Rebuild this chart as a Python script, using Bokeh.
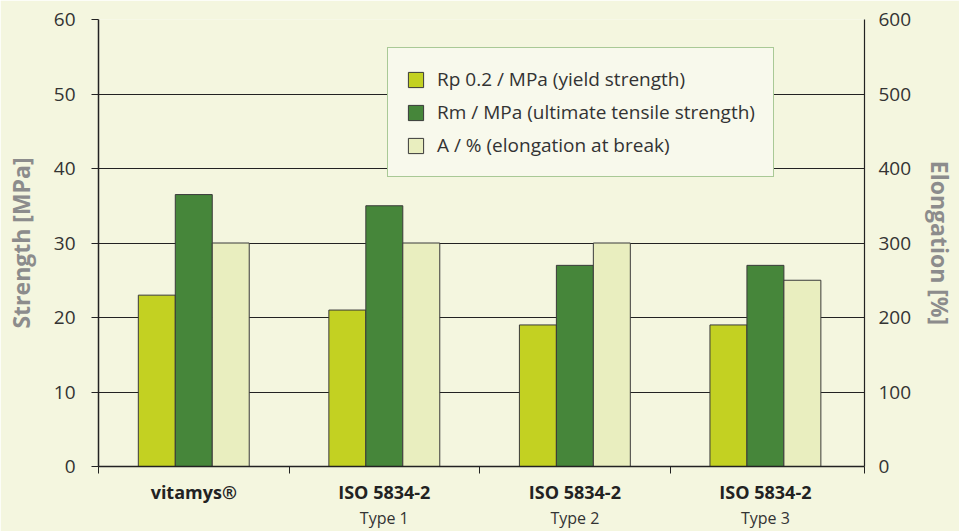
from bokeh.plotting import figure
from bokeh.models import (Range1d, LinearAxis, FixedTicker, Legend, LegendItem,
                          ColumnDataSource)
from bokeh.embed import file_html
from bokeh.resources import INLINE

# ---- data ----
categories = ["vitamys®", "ISO 5834-2", "ISO 5834-2", "ISO 5834-2"]
subtitles = ["", "Type 1", "Type 2", "Type 3"]
rp02 = [23, 21, 19, 19]          # MPa, yield strength
rm = [36.5, 35, 27, 27]          # MPa, ultimate tensile strength
elong = [300, 300, 300, 250]     # %, elongation at break
strength_ticks = [0, 10, 20, 30, 40, 50, 60]
elong_ticks = [0, 100, 200, 300, 400, 500, 600]

FONT = "Open Sans"
BG = "#f4f6df"
C_RP = "#c3d122"
C_RM = "#46863a"
C_A = "#e9eebf"
EDGE = "#3a3a3a"

n = len(categories)
centers = [i + 0.5 for i in range(n)]
bw = 0.194

p = figure(width=959, height=531, output_backend="svg", toolbar_location=None,
           x_range=Range1d(0, 4.02), y_range=Range1d(0, 60),
           min_border_left=98, min_border_right=95, min_border_top=19,
           min_border_bottom=65, background_fill_color=BG,
           border_fill_color=BG, outline_line_color=None)
p.extra_y_ranges = {"elong": Range1d(0, 600)}

src = ColumnDataSource(dict(
    x_rp=[c - bw for c in centers], x_rm=centers, x_a=[c + bw for c in centers],
    rp=rp02, rm=rm, a=elong))

r1 = p.vbar(x="x_rp", top="rp", width=bw, source=src, fill_color=C_RP,
            line_color=EDGE, line_width=1)
r2 = p.vbar(x="x_rm", top="rm", width=bw, source=src, fill_color=C_RM,
            line_color=EDGE, line_width=1)
r3 = p.vbar(x="x_a", top="a", width=bw, source=src, fill_color=C_A,
            line_color=EDGE, line_width=1, y_range_name="elong")

# grid
p.xgrid.visible = False
p.ygrid.ticker = FixedTicker(ticks=strength_ticks)
p.ygrid.grid_line_color = "#222222"
p.ygrid.grid_line_width = 1

# left axis
la = p.yaxis[0]
la.ticker = FixedTicker(ticks=strength_ticks, minor_ticks=[])
la.axis_label = "Strength [MPa]"
la.axis_label_text_font = FONT
la.axis_label_text_font_style = "bold"
la.axis_label_text_font_size = "23px"
la.axis_label_text_color = "#8c8c8c"
la.axis_label_standoff = 14
la.major_label_text_font = FONT
la.major_label_text_font_size = "19px"
la.major_label_text_color = "#333333"
la.major_label_standoff = 16
la.major_tick_out = 7
la.major_tick_in = 0
la.axis_line_color = "#222222"
la.axis_line_width = 1.5
la.major_tick_line_color = "#222222"
la.minor_tick_line_color = None

# right axis
ra = LinearAxis(y_range_name="elong",
                ticker=FixedTicker(ticks=elong_ticks, minor_ticks=[]))
ra.axis_label = "Elongation [%]"
ra.axis_label_text_font = FONT
ra.axis_label_text_font_style = "bold"
ra.axis_label_text_font_size = "23px"
ra.axis_label_text_color = "#8c8c8c"
ra.axis_label_standoff = 10
ra.major_label_text_font = FONT
ra.major_label_text_font_size = "19px"
ra.major_label_text_color = "#333333"
ra.major_label_standoff = 14
ra.major_tick_out = 0
ra.major_tick_in = 0
ra.axis_line_color = "#222222"
ra.axis_line_width = 1.2
ra.minor_tick_line_color = None
p.add_layout(ra, "right")

# bottom axis: category names (bold) and tick marks between categories
ba = p.xaxis[0]
ba.ticker = FixedTicker(ticks=centers, minor_ticks=[0, 1, 2, 3, 4.02])
ba.major_label_overrides = {c: lab for c, lab in zip(centers, categories)}
ba.major_label_text_font = FONT
ba.major_label_text_font_style = "bold"
ba.major_label_text_font_size = "18px"
ba.major_label_text_color = "#222222"
ba.major_label_standoff = 6
ba.major_tick_line_color = None
ba.major_tick_out = 7
ba.minor_tick_line_color = "#222222"
ba.minor_tick_out = 7
ba.minor_tick_in = 0
ba.axis_line_color = "#222222"
ba.axis_line_width = 1.5

# second bottom axis: sub labels
ba2 = LinearAxis(ticker=FixedTicker(ticks=centers, minor_ticks=[]))
ba2.major_label_overrides = {c: lab for c, lab in zip(centers, subtitles)}
ba2.major_label_text_font = FONT
ba2.major_label_text_font_size = "16px"
ba2.major_label_text_color = "#333333"
ba2.major_label_standoff = 0
ba2.major_tick_line_color = None
ba2.minor_tick_line_color = None
ba2.axis_line_color = None
ba2.major_tick_out = 0
ba2.major_tick_in = 0
p.add_layout(ba2, "below")

legend = Legend(items=[
    LegendItem(label="Rp 0.2 / MPa (yield strength)", renderers=[r1]),
    LegendItem(label="Rm / MPa (ultimate tensile strength)", renderers=[r2]),
    LegendItem(label="A / % (elongation at break)", renderers=[r3]),
], location=(289, 289))
legend.label_text_font = FONT
legend.label_text_font_size = "19px"
legend.label_text_color = "#333333"
legend.glyph_width = 19
legend.glyph_height = 19
legend.label_height = 19
legend.spacing = 7
legend.padding = 18
legend.margin = 0
legend.label_standoff = 12
legend.border_line_color = "#5a9a40"
legend.border_line_width = 1.5
legend.background_fill_color = "#f8f9ec"
legend.background_fill_alpha = 1.0
p.add_layout(legend)

open("out.html", "w").write(file_html(p, INLINE))
